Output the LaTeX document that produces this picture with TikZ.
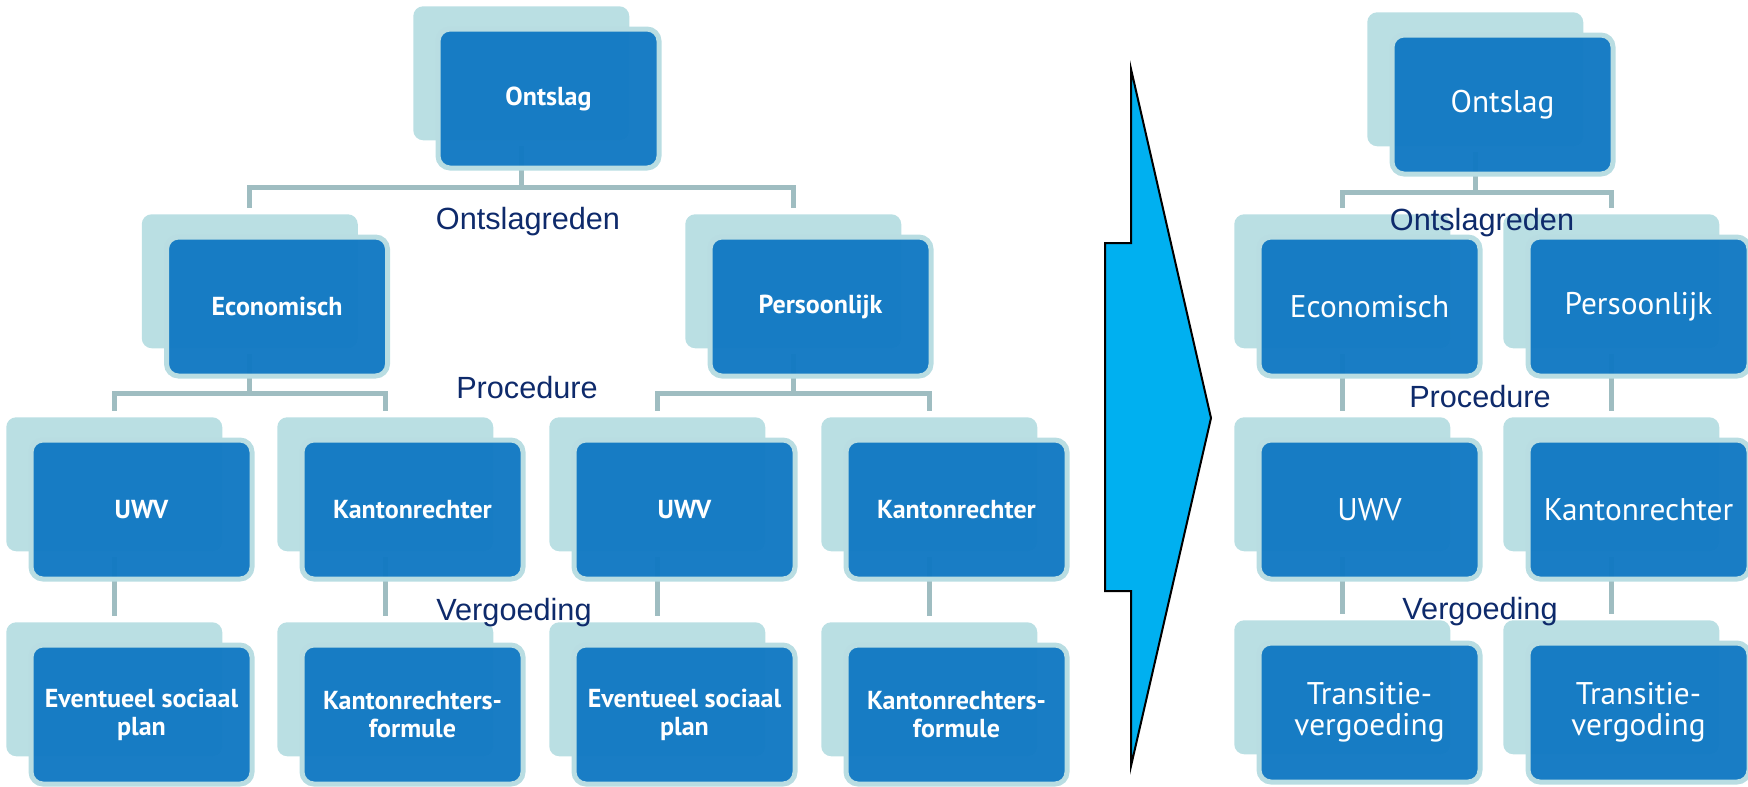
\documentclass[tikz,border=0pt]{standalone}
\usepackage{fontspec}
\setmainfont{PT Sans}
\newfontfamily\labelfont{Liberation Sans}
\definecolor{boxblue}{HTML}{1279C3}
\definecolor{backteal}{HTML}{BADFE3}
\definecolor{bordteal}{HTML}{B9DDE2}
\definecolor{connc}{HTML}{9FBDC1}
\definecolor{navy}{HTML}{0E2A6B}
\definecolor{arrowblue}{HTML}{00B0F0}
\pgfdeclarelayer{connlayer}
\pgfsetlayers{connlayer,main}
\newcommand\pairbox[5]{%
  \node[backbox] (#1-b) at (#2,#3) {};
  \node[frontbox,#4] (#1) at (#2+22.5,#3+20.5) {#5};
}
\begin{document}
\begin{tikzpicture}[x=0.75pt,y=-0.75pt,
  backbox/.style={fill=backteal, rounded corners=7.5pt, minimum width=162pt,
    minimum height=100.5pt, anchor=north west, inner sep=0pt},
  frontbox/.style={fill=boxblue, fill opacity=0.97, text opacity=1, draw=bordteal,
    line width=3.75pt, rounded corners=9pt, minimum width=165.75pt,
    minimum height=104.25pt, anchor=north west, inner sep=0pt, text=white, align=center},
  lft/.style={font=\bfseries\fontsize{19.5}{21}\selectfont},
  rgt/.style={font=\fontsize{23.5}{23}\selectfont},
  conn/.style={draw=connc, line width=3.75pt, shorten <=4pt, shorten >=4.5pt},
  lab/.style={anchor=base, text=navy, font=\labelfont\fontsize{23}{23}\selectfont, inner sep=0pt}
]
\useasboundingbox (0,0) rectangle (1748,786);

% ---------- left tree ----------
\pairbox{ontL}{413}{6}{lft}{Ontslag}
\pairbox{ecoL}{141.5}{214}{lft}{Economisch}
\pairbox{perL}{685}{214}{lft}{Persoonlijk}
\pairbox{uwvA}{6}{417}{lft}{UWV}
\pairbox{kanA}{277}{417}{lft}{Kantonrechter}
\pairbox{uwvB}{549}{417}{lft}{UWV}
\pairbox{kanB}{821}{417}{lft}{Kantonrechter}
\pairbox{spA}{6}{622}{lft}{Eventueel sociaal\\plan}
\pairbox{kfA}{277}{622}{lft}{Kantonrechters-\\formule}
\pairbox{spB}{549}{622}{lft}{Eventueel sociaal\\plan}
\pairbox{kfB}{821}{622}{lft}{Kantonrechters-\\formule}

% ---------- right tree ----------
\pairbox{ontR}{1367}{12}{rgt}{Ontslag}
\pairbox{ecoR}{1234}{214}{rgt}{Economisch}
\pairbox{perR}{1503}{214}{rgt}{Persoonlijk}
\pairbox{uwvR}{1234}{417}{rgt}{UWV}
\pairbox{kanR}{1503}{417}{rgt}{Kantonrechter}
\pairbox{trA}{1234}{620}{rgt}{Transitie-\\vergoeding}
\pairbox{trB}{1503}{620}{rgt}{Transitie-\\vergoding}

% ---------- connectors (behind boxes) ----------
\begin{pgfonlayer}{connlayer}
  \draw[conn] (ontL-b.south) -- ++(0,47) -| (ecoL-b.north);
  \draw[conn] (ontL-b.south) -- ++(0,47) -| (perL-b.north);
  \draw[conn] (ecoL-b.south) -- ++(0,45) -| (uwvA-b.north);
  \draw[conn] (ecoL-b.south) -- ++(0,45) -| (kanA-b.north);
  \draw[conn] (perL-b.south) -- ++(0,45) -| (uwvB-b.north);
  \draw[conn] (perL-b.south) -- ++(0,45) -| (kanB-b.north);
  \draw[conn] (uwvA-b.south) -- (spA-b.north);
  \draw[conn] (kanA-b.south) -- (kfA-b.north);
  \draw[conn] (uwvB-b.south) -- (spB-b.north);
  \draw[conn] (kanB-b.south) -- (kfB-b.north);
  \draw[conn] (ontR-b.south) -- ++(0,46) -| (ecoR-b.north);
  \draw[conn] (ontR-b.south) -- ++(0,46) -| (perR-b.north);
  \draw[conn] (ecoR-b.south) -- (uwvR-b.north);
  \draw[conn] (perR-b.south) -- (kanR-b.north);
  \draw[conn] (uwvR-b.south) -- (trA-b.north);
  \draw[conn] (kanR-b.south) -- (trB-b.north);
\end{pgfonlayer}

% ---------- arrow ----------
\draw[fill=arrowblue, line width=1.5pt, line join=miter]
  (1131,69) -- (1211,418) -- (1131,766) -- (1131,591) -- (1105,591)
  -- (1105,243) -- (1131,243) -- cycle;

% ---------- labels ----------
\node[lab] (lOnt) at (528,229) {Ontslagreden};
\node[lab] (lPro) at (527,398) {Procedure};
\node[lab] (lVer) at (514,620) {Vergoeding};
\node[lab] (rOnt) at (1482,230) {Ontslagreden};
\node[lab] (rPro) at (1480,407) {Procedure};
\node[lab] (rVer) at (1480,619) {Vergoeding};
\end{tikzpicture}
\end{document}
